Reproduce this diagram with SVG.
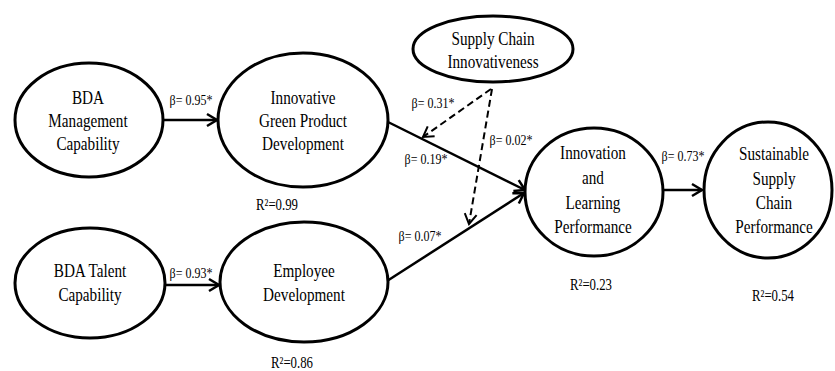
<svg xmlns="http://www.w3.org/2000/svg" width="835" height="371" viewBox="0 0 835 371">
<style>
.e{fill:#fff;stroke:#000;stroke-width:3}
.t{font-family:"Liberation Serif","Times New Roman",serif;font-size:19px;text-anchor:middle;fill:#000}
.l{font-family:"Liberation Serif","Times New Roman",serif;font-size:15px;text-anchor:middle;fill:#000}
.c{stroke:#000;stroke-width:2.5;fill:none}
.d{stroke:#000;stroke-width:2;fill:none;stroke-dasharray:7,4}
</style>
<defs>
<marker id="ah" markerUnits="userSpaceOnUse" markerWidth="14" markerHeight="16" refX="12" refY="7" orient="auto" viewBox="0 0 14 14">
<path d="M2,1 L12,7 L2,13" fill="none" stroke="#000" stroke-width="2.5"/>
</marker>
<marker id="ahd" markerUnits="userSpaceOnUse" markerWidth="14" markerHeight="16" refX="12" refY="7" orient="auto" viewBox="0 0 14 14">
<path d="M2,1 L12,7 L2,13" fill="none" stroke="#000" stroke-width="2"/>
</marker>
</defs>
<rect width="835" height="371" fill="#fff"/>
<g id="connectors">
<line class="c" x1="163" y1="120" x2="217" y2="120" marker-end="url(#ah)"/>
<line class="c" x1="165" y1="285" x2="219" y2="285" marker-end="url(#ah)"/>
<line class="c" x1="663" y1="190" x2="702" y2="190" marker-end="url(#ah)"/>
<line class="c" x1="388" y1="122" x2="525" y2="190" marker-end="url(#ah)"/>
<line class="c" x1="387" y1="281" x2="524" y2="193" marker-end="url(#ah)"/>
<line class="d" x1="491" y1="89" x2="423" y2="137" marker-end="url(#ahd)"/>
<line class="d" x1="492" y1="89" x2="469" y2="224" marker-end="url(#ahd)"/>
<text class="l" transform="translate(191,0) scale(0.8,1)" x="0" y="105">β= 0.95*</text>
<text class="l" transform="translate(191,0) scale(0.8,1)" x="0" y="278">β= 0.93*</text>
<text class="l" transform="translate(683,0) scale(0.8,1)" x="0" y="161">β= 0.73*</text>
<text class="l" transform="translate(433,0) scale(0.8,1)" x="0" y="108">β= 0.31*</text>
<text class="l" transform="translate(426,0) scale(0.8,1)" x="0" y="164">β= 0.19*</text>
<text class="l" transform="translate(511,0) scale(0.8,1)" x="0" y="145">β= 0.02*</text>
<text class="l" transform="translate(420,0) scale(0.8,1)" x="0" y="241">β= 0.07*</text>
</g>
<g id="bda-management">
<ellipse class="e" cx="89" cy="120" rx="74" ry="57"/>
<text class="t" transform="translate(88,0) scale(0.8,1)"><tspan x="0" y="104">BDA</tspan><tspan x="0" y="127">Management</tspan><tspan x="0" y="150">Capability</tspan></text>
</g>
<g id="green-product">
<ellipse class="e" cx="303" cy="120" rx="85" ry="67"/>
<text class="t" transform="translate(303,0) scale(0.8,1)"><tspan x="0" y="104">Innovative</tspan><tspan x="0" y="127">Green Product</tspan><tspan x="0" y="150">Development</tspan></text>
<text class="t" transform="translate(277,0) scale(0.8,1)" x="0" y="210" style="font-size:16px">R²=0.99</text>
</g>
<g id="bda-talent">
<ellipse class="e" cx="90" cy="283" rx="75" ry="55"/>
<text class="t" transform="translate(90,0) scale(0.8,1)"><tspan x="0" y="277">BDA Talent</tspan><tspan x="0" y="301">Capability</tspan></text>
</g>
<g id="employee-development">
<ellipse class="e" cx="304" cy="282" rx="84" ry="60"/>
<text class="t" transform="translate(304,0) scale(0.8,1)"><tspan x="0" y="277">Employee</tspan><tspan x="0" y="301">Development</tspan></text>
<text class="t" transform="translate(292,0) scale(0.8,1)" x="0" y="368" style="font-size:16px">R²=0.86</text>
</g>
<g id="supply-chain-innovativeness">
<ellipse class="e" cx="493" cy="49" rx="80" ry="33"/>
<text class="t" transform="translate(493,0) scale(0.8,1)"><tspan x="0" y="45">Supply Chain</tspan><tspan x="0" y="68">Innovativeness</tspan></text>
</g>
<g id="innovation-learning">
<ellipse class="e" cx="594" cy="192" rx="69" ry="64"/>
<text class="t" transform="translate(593,0) scale(0.8,1)"><tspan x="0" y="159">Innovation</tspan><tspan x="0" y="184">and</tspan><tspan x="0" y="209">Learning</tspan><tspan x="0" y="233">Performance</tspan></text>
<text class="t" transform="translate(591,0) scale(0.8,1)" x="0" y="290" style="font-size:16px">R²=0.23</text>
</g>
<g id="sustainable-performance">
<ellipse class="e" cx="768" cy="190" rx="64" ry="68"/>
<text class="t" transform="translate(774,0) scale(0.8,1)"><tspan x="0" y="160">Sustainable</tspan><tspan x="0" y="185">Supply</tspan><tspan x="0" y="209">Chain</tspan><tspan x="0" y="233">Performance</tspan></text>
<text class="t" transform="translate(773,0) scale(0.8,1)" x="0" y="301" style="font-size:16px">R²=0.54</text>
</g>
</svg>
